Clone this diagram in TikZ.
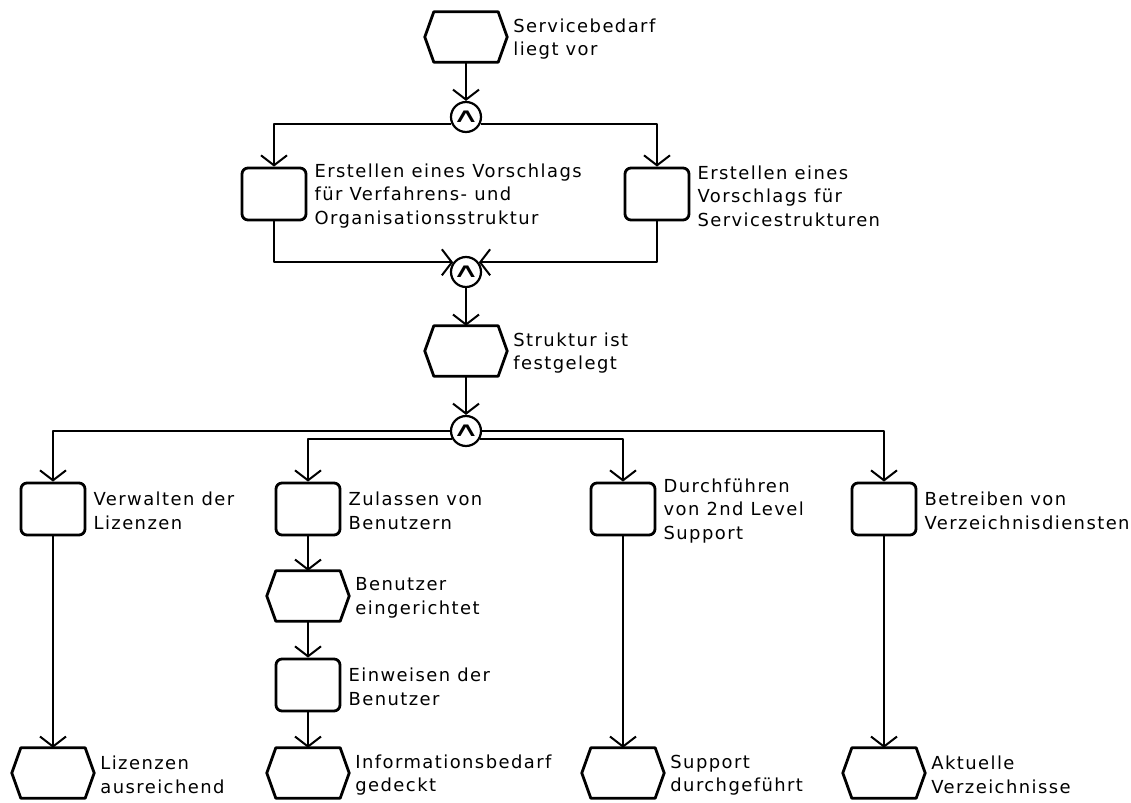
\documentclass[tikz,border=0pt]{standalone}
\usepackage{fontspec}
\setmainfont[LetterSpace=8]{DejaVu Sans}
\usetikzlibrary{arrows.meta,positioning}
\begin{document}
\begin{tikzpicture}[x=1bp,y=-1bp,line join=round,
    font=\fontsize{18}{23.5}\selectfont,
    flow/.style={line width=2bp,-{Straight Barb[length=10bp,width=26bp]}},
    hex/.style={line width=2.8bp},
    evt/.style={minimum width=82bp,minimum height=50bp,inner sep=0pt},
    fkt/.style={draw,line width=2.8bp,rounded corners=6bp,minimum width=64bp,minimum height=52bp,inner sep=0pt},
    und/.style={draw,circle,line width=2.2bp,minimum size=30bp,inner sep=0pt,font=\fontsize{20}{20}\selectfont},
    lbl/.style={align=left,inner sep=0pt,yshift=-2bp}]
\useasboundingbox (0,0) rectangle (1131,803);
\node[evt] (e1) at (466,37) {};
\node[und] (c1) at (466,117) {\scalebox{1.9}[1]{∧}};
\node[fkt] (f1) at (274,194) {};
\node[fkt] (f2) at (657,194) {};
\node[und] (c2) at (466,272) {\scalebox{1.9}[1]{∧}};
\node[evt] (e2) at (466,351) {};
\node[und] (c3) at (466,431) {\scalebox{1.9}[1]{∧}};
\node[fkt] (f3) at (53,509) {};
\node[fkt] (f4) at (308,509) {};
\node[fkt] (f5) at (623,509) {};
\node[fkt] (f6) at (884,509) {};
\node[evt] (e3) at (308,596) {};
\node[fkt] (f7) at (308,685) {};
\node[evt] (e4) at (308,773) {};
\node[evt] (e5) at (53,773) {};
\node[evt] (e6) at (623,773) {};
\node[evt] (e7) at (884,773) {};
\foreach \n in {e1,e2,e3,e4,e5,e6,e7}
  \draw[hex] ([xshift=9bp]\n.north west) -- ([xshift=-9bp]\n.north east) -- (\n.east)
    -- ([xshift=-9bp]\n.south east) -- ([xshift=9bp]\n.south west) -- (\n.west) -- cycle;
\node[lbl,right=6bp of e1] (e1t) {Servicebedarf\\liegt vor};
\node[lbl,right=7bp of f1] (f1t) {Erstellen eines Vorschlags\\für Verfahrens- und\\Organisationsstruktur};
\node[lbl,right=7bp of f2] (f2t) {Erstellen eines\\Vorschlags für\\Servicestrukturen};
\node[lbl,right=6bp of e2] (e2t) {Struktur ist\\festgelegt};
\node[lbl,right=7bp of f3] (f3t) {Verwalten der\\Lizenzen};
\node[lbl,right=7bp of f4] (f4t) {Zulassen von\\Benutzern};
\node[lbl,right=7bp of f5] (f5t) {Durchführen\\von 2nd Level\\Support};
\node[lbl,right=7bp of f6] (f6t) {Betreiben von\\Verzeichnisdiensten};
\node[lbl,right=6bp of e3] (e3t) {Benutzer\\eingerichtet};
\node[lbl,right=7bp of f7] (f7t) {Einweisen der\\Benutzer};
\node[lbl,right=6bp of e4] (e4t) {Informationsbedarf\\gedeckt};
\node[lbl,right=6bp of e5] (e5t) {Lizenzen\\ausreichend};
\node[lbl,right=6bp of e6] (e6t) {Support\\durchgeführt};
\node[lbl,right=6bp of e7] (e7t) {Aktuelle\\Verzeichnisse};
\draw[flow] (e1) -- (c1);
\draw[flow] (c1.-156) -| (f1.north);
\draw[flow] (c1.-24) -| (f2.north);
\draw[flow] (f1.south) |- (c2.143);
\draw[flow] (f2.south) |- (c2.37);
\draw[flow] (c2) -- (e2);
\draw[flow] (e2) -- (c3);
\draw[flow] (c3.west) -| (f3.north);
\draw[flow] (c3.-152) -| (f4.north);
\draw[flow] (c3.-28) -| (f5.north);
\draw[flow] (c3.east) -| (f6.north);
\draw[flow] (f3) -- (e5);
\draw[flow] (f4) -- (e3);
\draw[flow] (e3) -- (f7);
\draw[flow] (f7) -- (e4);
\draw[flow] (f5) -- (e6);
\draw[flow] (f6) -- (e7);
\end{tikzpicture}
\end{document}
